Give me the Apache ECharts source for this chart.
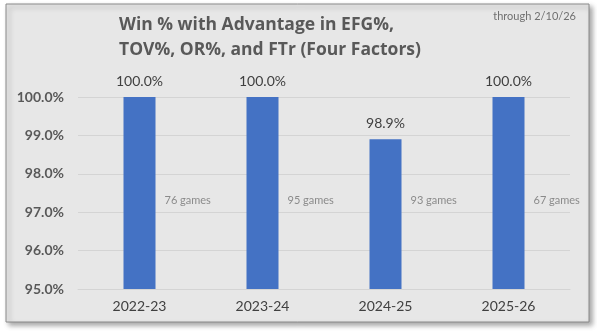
<!DOCTYPE html>
<html><head><meta charset="utf-8">
<script src="https://cdn.jsdelivr.net/npm/echarts@6/dist/echarts.min.js"></script>
<style>html,body{margin:0;padding:0;background:#fff}#c{width:597px;height:331px}</style>
</head><body><div id="c"></div>
<script>
const seasons = ['2022-23', '2023-24', '2024-25', '2025-26'];
const winPct = [100.0, 100.0, 98.9, 100.0];
const games = [76, 95, 93, 67];
const yTicks = [95, 96, 97, 98, 99, 100];
const titleLines = ['Win % with Advantage in EFG%,', 'TOV%, OR%, and FTr (Four Factors)'];
const noteText = 'through 2/10/26';

const FONT = 'Lato, "Open Sans", sans-serif';
const TFONT = '"Open Sans", Lato, sans-serif';
const chart = echarts.init(document.getElementById('c'), null, {renderer: 'canvas'});
chart.setOption({
  animation: false,
  backgroundColor: '#ffffff',
  graphic: [
    {type: 'rect', z: -10, shape: {x: 6, y: 4, width: 583, height: 318},
     style: {fill: '#e7e7e7', stroke: '#8a8a8a', lineWidth: 1,
       shadowBlur: 5, shadowOffsetX: 3, shadowOffsetY: 3, shadowColor: 'rgba(0,0,0,0.35)'}},
    {type: 'text', left: 119, top: 13, z: 10,
     style: {text: titleLines.join('\n'), font: 'bold 17.5px ' + TFONT, fill: '#595959', lineHeight: 25}},
    {type: 'text', right: 21, top: 11, z: 10,
     style: {text: noteText, font: '11px ' + FONT, fill: '#707070'}}
  ],
  grid: {left: 78, right: 27, top: 97, bottom: 42, containLabel: false},
  xAxis: {
    type: 'category', data: seasons,
    axisLine: {show: true, lineStyle: {color: '#d4d4d4'}},
    axisTick: {show: false},
    axisLabel: {color: '#404040', fontSize: 14, fontFamily: FONT, margin: 10}
  },
  yAxis: {
    type: 'value', min: yTicks[0], max: yTicks[yTicks.length - 1], interval: 1,
    axisLine: {show: false}, axisTick: {show: false},
    splitLine: {lineStyle: {color: '#d4d4d4', width: 1}},
    axisLabel: {color: '#595959', fontSize: 14, fontWeight: 'bold', fontFamily: FONT, margin: 14,
      formatter: v => v.toFixed(1) + '%'}
  },
  series: [
    {type: 'bar', data: winPct, barWidth: 32,
     itemStyle: {color: '#4472c4'},
     label: {show: true, position: 'top', distance: 9, color: '#404040', fontSize: 14, fontFamily: FONT,
       formatter: p => p.value.toFixed(1) + '%'}},
    {type: 'scatter', data: games.map((g, i) => [i, 97.3]), symbolSize: 0, silent: true,
     label: {show: true, position: 'right', distance: 25, color: '#737373', fontSize: 11, fontFamily: FONT,
       formatter: p => games[p.dataIndex] + ' games'}}
  ]
});
</script></body></html>
